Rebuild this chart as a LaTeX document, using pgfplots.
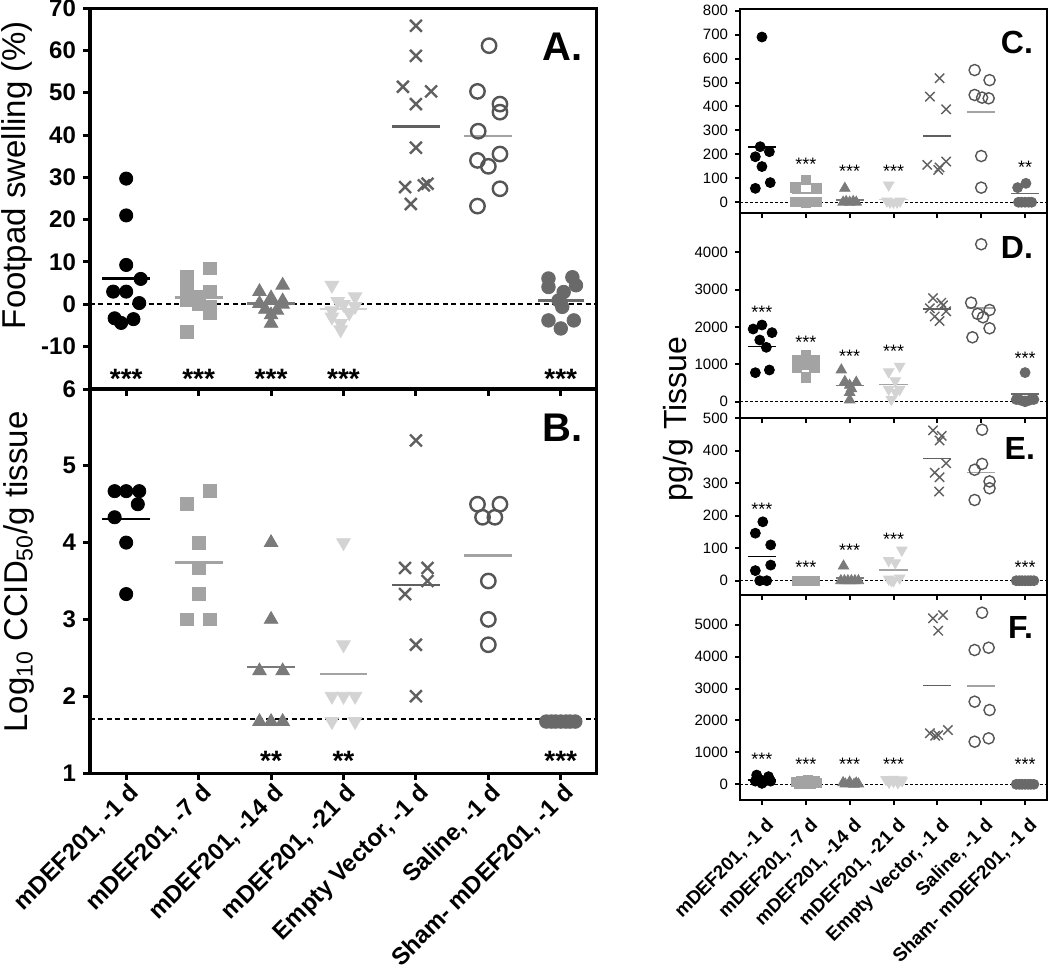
\documentclass[border=0pt]{standalone}
\usepackage{fontspec}
\setmainfont{Liberation Sans}
\usepackage{pgfplots}
\pgfplotsset{compat=1.18}
\definecolor{cB}{HTML}{A3A3A3}
\definecolor{cC}{HTML}{7A7A7A}
\definecolor{cD}{HTML}{D3D3D3}
\definecolor{cE}{HTML}{606060}
\definecolor{cF}{HTML}{555555}
\definecolor{cG}{HTML}{696969}
\newcommand\xl[1]{#1\hspace*{-10pt}}
\newcommand\xr[1]{#1\hspace*{-9.2pt}}
\tikzset{
  lstar/.style={font=\fontsize{14}{14}\selectfont\bfseries, anchor=base},
  rstar/.style={font=\fontsize{9}{9}\selectfont, anchor=base},
}
\pgfplotsset{
  base/.style={scale only axis, xmin=-0.5, xmax=6.5, xtick={0,...,6}, xtick pos=bottom, ytick pos=left,
    tick align=outside, clip=false, /pgf/number format/assume math mode=true,
    /pgf/number format/1000 sep={}, scaled y ticks=false, xticklabels={}},
  leftax/.style={base, width=253.5pt, axis line style={line width=1.5pt}, major tick style={line width=1.5pt, black},
    major tick length=3.5pt, tick label style={font=\fontsize{12}{12}\selectfont\bfseries}},
  rightax/.style={base, width=153.5pt, axis line style={line width=1pt}, major tick style={line width=1pt, black},
    major tick length=2.5pt, tick label style={font=\fontsize{7.5}{7.5}\selectfont}},
  L0/.style={only marks, mark=*, mark size=3.3pt, mark options={draw=black, fill=black}},
  L1/.style={only marks, mark=square*, mark size=3.2pt, mark options={draw=cB, fill=cB}},
  L2/.style={only marks, mark=triangle*, mark size=3.9pt, mark options={draw=cC, fill=cC}},
  L3/.style={only marks, mark=triangle*, mark size=3.9pt, mark options={draw=cD, fill=cD, rotate=180}},
  L4/.style={only marks, mark=x, mark size=4.2pt, mark options={draw=cE, line width=1.2pt}},
  L5/.style={only marks, mark=o, mark size=3.6pt, mark options={draw=cF, line width=1.2pt}},
  L6/.style={only marks, mark=*, mark size=3.4pt, mark options={draw=cG, fill=cG}},
  R0/.style={only marks, mark=*, mark size=2.5pt, mark options={draw=black, fill=black}},
  R1/.style={only marks, mark=square*, mark size=2.4pt, mark options={draw=cB, fill=cB}},
  R2/.style={only marks, mark=triangle*, mark size=3pt, mark options={draw=cC, fill=cC}},
  R3/.style={only marks, mark=triangle*, mark size=3pt, mark options={draw=cD, fill=cD, rotate=180}},
  R4/.style={only marks, mark=x, mark size=3.3pt, mark options={draw=cE, line width=0.7pt}},
  R5/.style={only marks, mark=o, mark size=2.8pt, mark options={draw=cF, line width=0.7pt}},
  R6/.style={only marks, mark=*, mark size=2.5pt, mark options={draw=cG, fill=cG}},
  lm/.style={line width=1.3pt},
  rm/.style={line width=0.8pt},
}
\begin{document}
\begin{tikzpicture}
\useasboundingbox (0,0) rectangle (525pt,-488pt);
% ---------------- Panel A ----------------
\begin{axis}[leftax, at={(45pt,-4pt)}, anchor=north west, height=190.5pt,
  ymin=-20, ymax=70, ytick={-10,0,...,70}]
\addplot[black, line width=1pt, dash pattern=on 2.5pt off 1.7pt] coordinates {(-0.5,0) (6.5,0)};
\addplot[L0] coordinates {(0,29.7) (0,21) (0,9.3) (0.2,6) (-0.18,3) (0,3) (0.18,0.3) (-0.16,-3.3) (0.1,-3.5) (-0.07,-4.4)};
\addplot[L1] coordinates {(1.16,8.5) (0.84,6.5) (0.84,3.5) (1.16,3) (1,1.8) (0.84,1) (1,0) (1.16,-0.5) (1.16,-2) (0.84,-6.5)};
\addplot[L2] coordinates {(2.16,4.5) (1.84,3) (2,1.5) (1.84,0.2) (2.16,0) (1.92,-1.2) (2.08,-1.4) (2,-2.5) (2,-4.5) (2.16,0.8)};
\addplot[L3] coordinates {(2.84,4.5) (3.16,1.8) (2.92,0.7) (3.0,0) (3.16,-0.5) (2.84,-1.5) (3.08,-2) (2.84,-3) (2.96,-4.5) (2.96,-6)};
\addplot[L4] coordinates {(4,65.8) (4,58.7) (3.82,51.4) (4.21,50.3) (4,47.3) (4,37) (3.85,27.7) (4.11,28.1) (4.16,28.5) (3.93,23.7)};
\addplot[L5] coordinates {(5.01,61.1) (4.85,50.3) (5.16,47.3) (5.16,45.4) (4.86,40.9) (5.16,35.5) (4.85,34) (5,32.6) (5.16,27.3) (4.85,23.2)};
\addplot[L6] coordinates {(5.83,6.1) (6.16,6.4) (5.83,4.1) (6.21,4.5) (6.04,2.9) (5.97,0.9) (6.02,-0.6) (5.83,-3.8) (6.18,-3.8) (6,-5.7)};
\addplot[lm, black] coordinates {(-0.33,6.1) (0.33,6.1)};
\addplot[lm, cB] coordinates {(0.67,1.6) (1.33,1.6)};
\addplot[lm, cC] coordinates {(1.67,0.2) (2.33,0.2)};
\addplot[lm, cD] coordinates {(2.67,-1.1) (3.33,-1.1)};
\addplot[lm, cE] coordinates {(3.67,42) (4.33,42)};
\addplot[lm, cB] coordinates {(4.67,39.8) (5.33,39.8)};
\addplot[lm, cG] coordinates {(5.68,0.94) (6.32,0.94)};
\node[lstar] at (axis cs:0,-19.8) {***};
\node[lstar] at (axis cs:1,-19.8) {***};
\node[lstar] at (axis cs:2,-19.8) {***};
\node[lstar] at (axis cs:3,-19.8) {***};
\node[lstar] at (axis cs:6,-19.8) {***};
\end{axis}
% ---------------- Panel B ----------------
\begin{axis}[leftax, at={(45pt,-194.5pt)}, anchor=north west, height=192pt,
  ymin=1, ymax=6, ytick={1,...,6},
  xticklabels={{\xl{mDEF201, -1 d}},{\xl{mDEF201, -7 d}},{\xl{mDEF201, -14 d}},{\xl{mDEF201, -21 d}},{\xl{Empty Vector, -1 d}},{\xl{Saline, -1 d}},{\xl{Sham- mDEF201, -1 d}}},
  xticklabel shift=14pt,
  xticklabel style={rotate=45, anchor=base east, inner sep=0pt, font=\fontsize{12}{12}\selectfont\bfseries}]
\addplot[black, line width=1pt, dash pattern=on 2.5pt off 1.7pt] coordinates {(-0.5,1.7) (6.5,1.7)};
\addplot[L0] coordinates {(-0.16,4.67) (0,4.67) (0.18,4.67) (0.16,4.5) (-0.16,4.33) (0,4.0) (0,3.33)};
\addplot[L1] coordinates {(1.16,4.67) (0.84,4.5) (1,4.0) (1,3.67) (1,3.33) (0.84,3.0) (1.16,3.0)};
\addplot[L2] coordinates {(2,4.0) (2,3.0) (1.84,2.33) (2.16,2.33) (1.84,1.67) (2,1.67) (2.16,1.67)};
\addplot[L3] coordinates {(3,4.0) (3,2.67) (2.84,2.0) (3,2.0) (3.16,2.0) (2.84,1.67) (3.16,1.67)};
\addplot[L4] coordinates {(4,5.33) (3.85,3.67) (4.16,3.67) (4.16,3.5) (3.85,3.33) (4,2.67) (4,2.0)};
\addplot[L5] coordinates {(4.85,4.5) (5.16,4.5) (4.92,4.33) (5.09,4.33) (5,3.5) (5,3.0) (5,2.67)};
\addplot[L6] coordinates {(5.8,1.67) (5.87,1.67) (5.93,1.67) (6,1.67) (6.07,1.67) (6.13,1.67) (6.2,1.67)};
\addplot[lm, black] coordinates {(-0.33,4.31) (0.33,4.31)};
\addplot[lm, cB] coordinates {(0.67,3.74) (1.33,3.74)};
\addplot[lm, cC] coordinates {(1.67,2.38) (2.33,2.38)};
\addplot[lm, cB] coordinates {(2.67,2.29) (3.33,2.29)};
\addplot[lm, cE] coordinates {(3.67,3.45) (4.33,3.45)};
\addplot[lm, cB] coordinates {(4.67,3.83) (5.33,3.83)};
\node[lstar] at (axis cs:2,1.03) {**};
\node[lstar] at (axis cs:3,1.03) {**};
\node[lstar] at (axis cs:6,1.03) {***};
\end{axis}
% ---------------- Panel C ----------------
\begin{axis}[rightax, at={(370pt,-4.5pt)}, anchor=north west, height=102pt,
  ymin=-45, ymax=807, ytick={0,100,...,800}]
\addplot[black, line width=0.6pt, dash pattern=on 1.5pt off 1pt] coordinates {(-0.5,0) (6.5,0)};
\addplot[R0] coordinates {(0,690) (-0.04,232) (0.17,211) (-0.15,190) (0,149) (0.19,82) (-0.15,58)};
\addplot[R1] coordinates {(1,93) (0.76,62) (1.24,58) (0.76,2) (1,0) (1.24,2)};
\addplot[R2] coordinates {(1.89,58) (1.85,0) (2,0) (2.15,0) (1.92,3) (2.08,3)};
\addplot[R3] coordinates {(2.89,72) (2.85,5) (3,0) (3.15,5) (2.92,0) (3.08,0)};
\addplot[R4] coordinates {(4.05,518) (3.83,441) (4.2,388) (3.77,156) (4.02,135) (4.2,170) (4.05,145)};
\addplot[R5] coordinates {(4.85,552) (5.19,510) (4.85,448) (5.02,437) (5.17,434) (5,193) (5,61)};
\addplot[R6] coordinates {(5.83,61) (6.02,79) (5.85,0) (6,0) (6.15,0) (5.92,0) (6.08,0)};
\addplot[rm, black] coordinates {(-0.32,230) (0.32,230)};
\addplot[rm, cB] coordinates {(0.68,38) (1.32,38)};
\addplot[rm, cC] coordinates {(1.68,10) (2.32,10)};
\addplot[rm, cD] coordinates {(2.68,12) (3.32,12)};
\addplot[rm, cE] coordinates {(3.68,277) (4.32,277)};
\addplot[rm, cB] coordinates {(4.68,376) (5.32,376)};
\addplot[rm, cG] coordinates {(5.68,37) (6.32,37)};
\node[rstar] at (axis cs:1,133) {***};
\node[rstar] at (axis cs:2,105) {***};
\node[rstar] at (axis cs:3,105) {***};
\node[rstar] at (axis cs:6,119) {**};
\end{axis}
% ---------------- Panel D ----------------
\begin{axis}[rightax, at={(370pt,-106.5pt)}, anchor=north west, height=102.5pt,
  ymin=-436, ymax=5050, ytick={0,1000,...,4000}]
\addplot[black, line width=0.6pt, dash pattern=on 1.5pt off 1pt] coordinates {(-0.5,0) (6.5,0)};
\addplot[R0] coordinates {(0,2053) (-0.2,1946) (0.23,1848) (-0.05,1652) (0.1,1456) (0.17,849) (-0.15,777)};
\addplot[R1] coordinates {(1,1250) (0.8,1100) (1.2,1100) (1,1000) (0.8,900) (1.2,900) (1,650)};
\addplot[R2] coordinates {(1.81,850) (1.89,540) (2.15,520) (2,440) (2.04,350) (2,250) (2,50)};
\addplot[R3] coordinates {(3.14,950) (2.89,800) (3.04,560) (3.14,330) (2.89,330) (3.05,250) (2.95,60)};
\addplot[R4] coordinates {(3.9,2770) (4.09,2650) (3.83,2500) (4.13,2580) (3.94,2280) (4.05,2160) (4.2,2420)};
\addplot[R5] coordinates {(5,4214) (4.77,2650) (5.19,2455) (4.92,2350) (5.04,2260) (5.19,1965) (4.8,1724)};
\addplot[R6] coordinates {(6,780) (5.8,60) (5.9,40) (6,20) (6.1,40) (6.2,60) (6,0)};
\addplot[rm, black] coordinates {(-0.32,1480) (0.32,1480)};
\addplot[rm, cB] coordinates {(0.68,986) (1.32,986)};
\addplot[rm, cC] coordinates {(1.68,430) (2.32,430)};
\addplot[rm, cB] coordinates {(2.68,464) (3.32,464)};
\addplot[rm, cE] coordinates {(3.68,2480) (4.32,2480)};
\addplot[rm, cB] coordinates {(4.68,2510) (5.32,2510)};
\addplot[rm, cG] coordinates {(5.68,200) (6.32,200)};
\node[rstar] at (axis cs:0,2222) {***};
\node[rstar] at (axis cs:1,1419) {***};
\node[rstar] at (axis cs:2,1060) {***};
\node[rstar] at (axis cs:3,1194) {***};
\node[rstar] at (axis cs:6,999) {***};
\end{axis}
% ---------------- Panel E ----------------
\begin{axis}[rightax, at={(370pt,-209pt)}, anchor=north west, height=88.5pt,
  ymin=-44, ymax=500, ytick={0,100,...,500}]
\addplot[black, line width=0.6pt, dash pattern=on 1.5pt off 1pt] coordinates {(-0.5,0) (6.5,0)};
\addplot[R0] coordinates {(0.02,181) (-0.15,146) (0.2,110) (0.2,48) (-0.15,31) (-0.05,0) (0.11,0)};
\addplot[R1] coordinates {(0.8,0) (0.87,0) (0.93,0) (1,0) (1.07,0) (1.13,0) (1.2,0)};
\addplot[R2] coordinates {(1.86,45) (1.8,0) (1.88,0) (1.96,0) (2.04,0) (2.12,0) (2.2,0)};
\addplot[R3] coordinates {(3.19,94) (2.89,62) (3.04,55) (2.89,5) (3.14,8) (3,0) (2.95,0)};
\addplot[R4] coordinates {(3.9,462) (4.1,445) (4.05,431) (4.2,361) (3.94,332) (4.05,318) (4.04,274)};
\addplot[R5] coordinates {(5.02,464) (5.02,359) (4.85,341) (5.19,305) (5.19,284) (4.85,248)};
\addplot[R6] coordinates {(5.8,0) (5.87,0) (5.93,0) (6,0) (6.07,0) (6.13,0) (6.2,0)};
\addplot[rm, black] coordinates {(-0.32,74) (0.32,74)};
\addplot[rm, cC] coordinates {(1.68,9) (2.32,9)};
\addplot[rm, cB] coordinates {(2.68,32) (3.32,32)};
\addplot[rm, cE] coordinates {(3.68,375) (4.32,375)};
\addplot[rm, cB] coordinates {(4.68,333) (5.32,333)};
\node[rstar] at (axis cs:0,201) {***};
\node[rstar] at (axis cs:1,22) {***};
\node[rstar] at (axis cs:2,73) {***};
\node[rstar] at (axis cs:3,109) {***};
\node[rstar] at (axis cs:6,22) {***};
\end{axis}
% ---------------- Panel F ----------------
\begin{axis}[rightax, at={(370pt,-297.5pt)}, anchor=north west, height=102.5pt,
  ymin=-492, ymax=5929, ytick={0,1000,...,5000},
  xticklabels={{\xr{mDEF201, -1 d}},{\xr{mDEF201, -7 d}},{\xr{mDEF201, -14 d}},{\xr{mDEF201, -21 d}},{\xr{Empty Vector, -1 d}},{\xr{Saline, -1 d}},{\xr{Sham- mDEF201, -1 d}}},
  xticklabel shift=17pt,
  xticklabel style={rotate=45, anchor=base east, inner sep=0pt, font=\fontsize{9.5}{9.5}\selectfont\bfseries}]
\addplot[black, line width=0.6pt, dash pattern=on 1.5pt off 1pt] coordinates {(-0.5,0) (6.5,0)};
\addplot[R0] coordinates {(-0.12,290) (0.15,240) (-0.05,150) (0.1,120) (0,30) (-0.15,100) (0.2,100)};
\addplot[R1] coordinates {(0.78,80) (0.9,100) (1.05,120) (1.2,90) (0.85,30) (1.1,20) (1.25,40)};
\addplot[R2] coordinates {(1.85,50) (2,70) (2.15,40) (1.9,10) (2.1,0) (2,20) (2.2,10)};
\addplot[R3] coordinates {(2.83,150) (3,160) (3.17,140) (2.9,60) (3.1,50) (3,90) (3.2,110)};
\addplot[R4] coordinates {(3.9,5200) (4.13,5300) (4.02,4810) (3.83,1600) (3.95,1520) (4.02,1540) (4.24,1700)};
\addplot[R5] coordinates {(5.02,5375) (4.85,4206) (5.17,4278) (4.85,2588) (5.19,2327) (4.85,1335) (5.17,1440)};
\addplot[R6] coordinates {(5.8,0) (5.87,0) (5.93,0) (6,0) (6.07,0) (6.13,0) (6.2,0)};
\addplot[rm, black] coordinates {(-0.32,135) (0.32,135)};
\addplot[rm, cE] coordinates {(3.68,3096) (4.32,3096)};
\addplot[rm, cB] coordinates {(4.68,3078) (5.32,3078)};
\node[rstar] at (axis cs:0,592) {***};
\node[rstar] at (axis cs:1,435) {***};
\node[rstar] at (axis cs:2,435) {***};
\node[rstar] at (axis cs:3,435) {***};
\node[rstar] at (axis cs:6,435) {***};
\end{axis}
% ---------------- labels ----------------
\node[rotate=90, font=\fontsize{16.5}{16.5}\selectfont] at (8.5pt,-87.5pt) {Footpad swelling (\%)};
\node[rotate=90, font=\fontsize{16.5}{16.5}\selectfont] at (9.5pt,-286pt) {Log\textsubscript{10} CCID\textsubscript{50}/g tissue};
\node[rotate=90, font=\fontsize{16}{16}\selectfont] at (339pt,-209.5pt) {pg/g Tissue};
\node[anchor=east, font=\fontsize{20}{20}\selectfont\bfseries] at (295pt,-23.5pt) {A.};
\node[anchor=east, font=\fontsize{20}{20}\selectfont\bfseries] at (295pt,-214pt) {B.};
\node[anchor=east, font=\fontsize{16}{16}\selectfont\bfseries] at (520pt,-21.3pt) {C.};
\node[anchor=east, font=\fontsize{16}{16}\selectfont\bfseries] at (520pt,-123.5pt) {D.};
\node[anchor=east, font=\fontsize{16}{16}\selectfont\bfseries] at (521pt,-224pt) {E.};
\node[anchor=east, font=\fontsize{16}{16}\selectfont\bfseries] at (520pt,-313.5pt) {F.};
\end{tikzpicture}
\end{document}
